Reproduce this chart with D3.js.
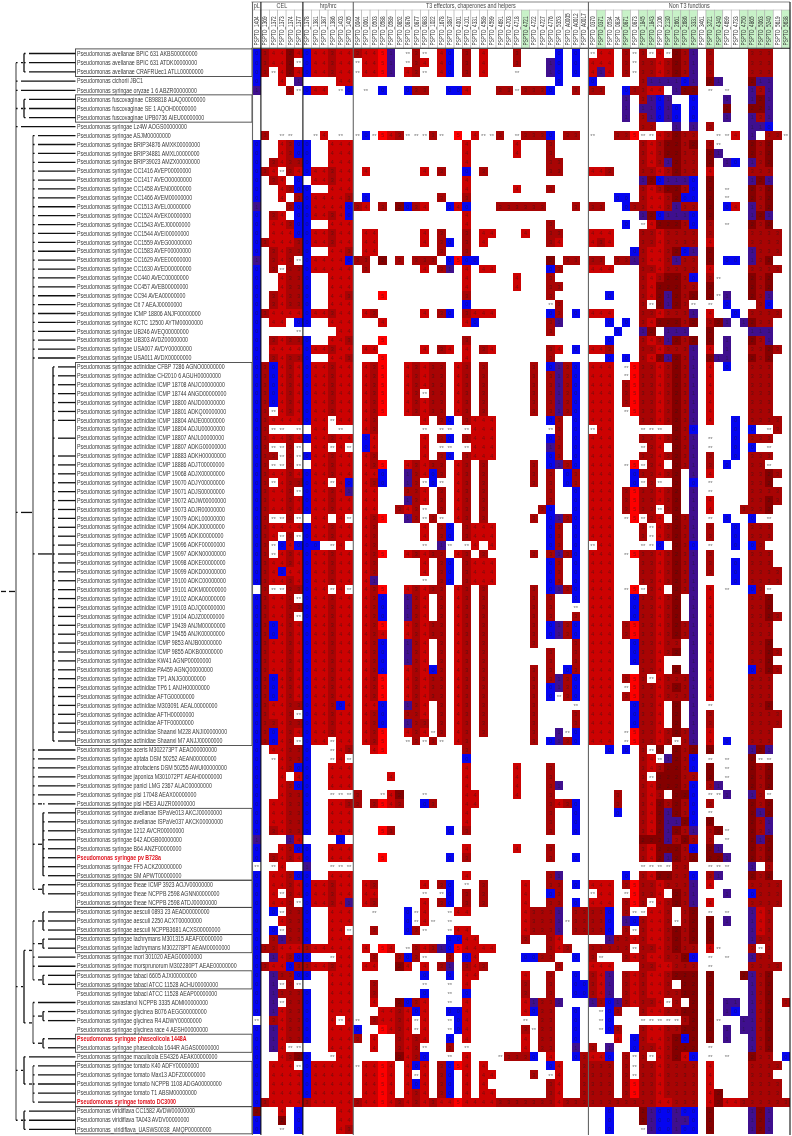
<html lang="en">
<head>
  <meta charset="UTF-8"/>
  <title>Pseudomonas T3 gene heatmap</title>
  <script src="https://d3js.org/d3.v7.min.js"></script>
  <style>
body { margin: 0; background: #fff; }
svg { display: block; filter: blur(0.3px); }
text { font-family: 'Liberation Sans', sans-serif; }
.strain { font-size: 6.6px; fill: #3a3a3a; }
.strain.ref { fill: #e0141e; font-weight: 700; }
.gene text { font-size: 6.4px; fill: #333; }
.group { font-size: 6.8px; fill: #444; text-anchor: middle; }
.digit { font-size: 5.4px; fill: #1a1a1a; opacity: 0.5; text-anchor: middle; }
.star { font-size: 6px; fill: #777; text-anchor: middle; }
  </style>
</head>
<body>
<svg width="792" height="1136"></svg>
<script>
const groupNames = ['pL', 'CEL', 'hrp/hrc', 'T3 effectors, chaperones and helpers', 'Non T3 functions'];
const groupSizes = [1, 5, 6, 28, 24];

const genes = ['1404','1369','1372','1373','1374','1377','1378','1381','1387','1386','1403','1405',
  '0044','0061','0503','0588','0589','0852','0876','0877','0883','1022','1678','3087','4001','4101','4331','4589',
  '4599','4691','4703','4718','4721','4722','4727','4776','5353','A0005','A0012','A0017',
  '0370','0371','0534','0834','0871','0873','1845','1843','2106','2130','2661','2686','3331','3461','3721','4340',
  '4699','4733','4750','4865','5063','5240','5619','5638'];
const greenGenes = ['4721','0371','0871','1845','1843','2130','2661','2686','3331','3721','4340','4750','4865','5063','5240','5638'];

const strains = [
  'Pseudomonas avellanae BPIC 631 AKBS00000000','Pseudomonas avellanae BPIC 631 ATDK00000000','Pseudomonas avellanae CRAFRUec1 ATLL00000000',
  'Pseudomonas cichorii JBC1','Pseudomonas syringae oryzae 1 6 ABZR00000000',
  'Pseudomonas fuscovaginae CB98818 ALAQ00000000','Pseudomonas fuscovaginae SE 1 AQOH00000000','Pseudomonas fuscovaginae UPB0736 AIEU00000000',
  'Pseudomonas syringae Lz4W AOGS00000000','Pseudomonas syringae ASJM00000000',
  'Pseudomonas syringae BRIP34876 AMXK00000000','Pseudomonas syringae BRIP34881 AMXL00000000','Pseudomonas syringae BRIP39023 AMZX00000000',
  'Pseudomonas syringae CC1416 AVEP00000000','Pseudomonas syringae CC1417 AVEO00000000','Pseudomonas syringae CC1458 AVEN00000000',
  'Pseudomonas syringae CC1466 AVEM00000000','Pseudomonas syringae CC1513 AVEL00000000','Pseudomonas syringae CC1524 AVEK00000000',
  'Pseudomonas syringae CC1543 AVEJ00000000','Pseudomonas syringae CC1544 AVEI00000000','Pseudomonas syringae CC1559 AVEG00000000',
  'Pseudomonas syringae CC1583 AVEF00000000','Pseudomonas syringae CC1629 AVEE00000000','Pseudomonas syringae CC1630 AVED00000000',
  'Pseudomonas syringae CC440 AVEC00000000','Pseudomonas syringae CC457 AVEB00000000','Pseudomonas syringae CC94 AVEA00000000',
  'Pseudomonas syringae Cit 7 AEAJ00000000','Pseudomonas syringae ICMP 18806 ANJF00000000','Pseudomonas syringae KCTC 12500 AYTM00000000',
  'Pseudomonas syringae UB246 AVEQ00000000','Pseudomonas syringae UB303 AVDZ00000000','Pseudomonas syringae USA007 AVDY00000000','Pseudomonas syringae USA011 AVDX00000000',
  'Pseudomonas syringae actinidiae CFBP 7286 AGNO00000000','Pseudomonas syringae actinidiae CH2010 6 AGUH00000000',
  'Pseudomonas syringae actinidiae ICMP 18708 ANJC00000000','Pseudomonas syringae actinidiae ICMP 18744 ANGD00000000',
  'Pseudomonas syringae actinidiae ICMP 18800 ANJD00000000','Pseudomonas syringae actinidiae ICMP 18801 ADKQ00000000',
  'Pseudomonas syringae actinidiae ICMP 18804 ANJE00000000','Pseudomonas syringae actinidiae ICMP 18804 ADJU00000000',
  'Pseudomonas syringae actinidiae ICMP 18807 ANJL00000000','Pseudomonas syringae actinidiae ICMP 18807 ADKG00000000',
  'Pseudomonas syringae actinidiae ICMP 18883 ADKH00000000','Pseudomonas syringae actinidiae ICMP 18886 ADJT00000000',
  'Pseudomonas syringae actinidiae ICMP 19068 ADJX00000000','Pseudomonas syringae actinidiae ICMP 19070 ADJY00000000',
  'Pseudomonas syringae actinidiae ICMP 19071 ADJS00000000','Pseudomonas syringae actinidiae ICMP 19072 ADJW00000000',
  'Pseudomonas syringae actinidiae ICMP 19073 ADJR00000000','Pseudomonas syringae actinidiae ICMP 19079 ADKL00000000',
  'Pseudomonas syringae actinidiae ICMP 19094 ADKJ00000000','Pseudomonas syringae actinidiae ICMP 19095 ADKI00000000',
  'Pseudomonas syringae actinidiae ICMP 19096 ADKF00000000','Pseudomonas syringae actinidiae ICMP 19097 ADKN00000000',
  'Pseudomonas syringae actinidiae ICMP 19098 ADKE00000000','Pseudomonas syringae actinidiae ICMP 19099 ADKD00000000',
  'Pseudomonas syringae actinidiae ICMP 19100 ADKC00000000','Pseudomonas syringae actinidiae ICMP 19101 ADKM00000000',
  'Pseudomonas syringae actinidiae ICMP 19102 ADKA00000000','Pseudomonas syringae actinidiae ICMP 19103 ADJQ00000000',
  'Pseudomonas syringae actinidiae ICMP 19104 ADJZ00000000','Pseudomonas syringae actinidiae ICMP 19439 ANJM00000000',
  'Pseudomonas syringae actinidiae ICMP 19455 ANJK00000000','Pseudomonas syringae actinidiae ICMP 9853 ANJB00000000',
  'Pseudomonas syringae actinidiae ICMP 9855 ADKB00000000','Pseudomonas syringae actinidiae KW41 AGNP00000000',
  'Pseudomonas syringae actinidiae PA459 AGNQ00000000','Pseudomonas syringae actinidiae TP1 ANJG00000000',
  'Pseudomonas syringae actinidiae TP6 1 ANJH00000000','Pseudomonas syringae actinidiae AFTG00000000',
  'Pseudomonas syringae actinidiae M303091 AEAL00000000','Pseudomonas syringae actinidiae AFTH00000000',
  'Pseudomonas syringae actinidiae AFTF00000000','Pseudomonas syringae actinidiae Shaanxi M228 ANJI00000000',
  'Pseudomonas syringae actinidiae Shaanxi M7 ANJJ00000000','Pseudomonas syringae aceris M302273PT AEAO00000000',
  'Pseudomonas syringae aptata DSM 50252 AEAN00000000','Pseudomonas syringae atrofaciens DSM 50255 AWUI00000000',
  'Pseudomonas syringae japonica M301072PT AEAH00000000','Pseudomonas syringae panici LMG 2367 ALAC00000000',
  'Pseudomonas syringae pisi 17048 AEAX00000000','Pseudomonas syringae pisi H5E3 AUZR00000000',
  'Pseudomonas syringae avellanae ISPaVe013 AKCJ00000000','Pseudomonas syringae avellanae ISPaVe037 AKCK00000000',
  'Pseudomonas syringae 1212 AVCR00000000','Pseudomonas syringae 642 ADGB00000000','Pseudomonas syringae B64 ANZF00000000',
  'Pseudomonas syringae pv B728a','Pseudomonas syringae FF5 ACKZ00000000','Pseudomonas syringae SM APWT00000000',
  'Pseudomonas syringae theae ICMP 3923 AOJV00000000','Pseudomonas syringae theae NCPPB 2598 AGNN00000000','Pseudomonas syringae theae NCPPB 2598 ATDJ00000000',
  'Pseudomonas syringae aesculi 0893 23 AEAD00000000','Pseudomonas syringae aesculi 2250 ACXT00000000','Pseudomonas syringae aesculi NCPPB3681 ACXS00000000',
  'Pseudomonas syringae lachrymans M301315 AEAF00000000','Pseudomonas syringae lachrymans M302278PT AEAM00000000',
  'Pseudomonas syringae mori 301020 AEAG00000000','Pseudomonas syringae morsprunorum M302280PT AEAE00000000',
  'Pseudomonas syringae tabaci 6605 AJXI00000000','Pseudomonas syringae tabaci ATCC 11528 ACHU00000000','Pseudomonas syringae tabaci ATCC 11528 AEAP00000000',
  'Pseudomonas savastanoi NCPPB 3335 ADMI00000000','Pseudomonas syringae glycinea B076 AEGG00000000','Pseudomonas syringae glycinea R4 ADWY00000000',
  'Pseudomonas syringae glycinea race 4 AESH00000000','Pseudomonas syringae phaseolicola 1448A','Pseudomonas syringae phaseolicola 1644R AGAS00000000',
  'Pseudomonas syringae maculicola ES4326 AEAK00000000','Pseudomonas syringae tomato K40 ADFY00000000','Pseudomonas syringae tomato Max13 ADFZ00000000',
  'Pseudomonas syringae tomato NCPPB 1108 ADGA00000000','Pseudomonas syringae tomato T1 ABSM00000000','Pseudomonas syringae tomato DC3000',
  'Pseudomonas viridiflava CC1582 AVDW00000000','Pseudomonas viridiflava TA043 AVDV00000000','Pseudomonas_viridiflava_UASWS0038_AMQP00000000'];
const refStrains = ['Pseudomonas syringae pv B728a', 'Pseudomonas syringae phaseolicola 1448A', 'Pseudomonas syringae tomato DC3000'];

// one line per strain; 0-5 = score, * = "**" cell, . = empty. chunks start at segStart columns
const segStart = [0, 1, 6, 12, 22, 32, 40, 50, 60];
const scores = [
'0 34424 044344 34451.*3*. 40.3.4...3 ....0.0. *44.3*3*4* 231.3....3 33..',
'0 3442* 044344 *4451.*34. 40.3.4...3 ...10.0. 444.3*3343 231.3....3 33..',
'0 3*424 044344 *4451.43*. 40.3.4...* ...10.0. 414.3*3343 231.3....3 33..',
'0 ..4.1 ....44 . . ....0... 0.....3111 101.21...2 11..',
'1 ...3* 044.*0 .*.0..033. .004...33* 3330..3. 33..03344. 122.*.*..1 31..',
'. . . . . . ....1.3101 ..0...1..1 21..',
'. . . . . . ....1.1101 0.0...2..2 21..',
'. . . . . . ....1.3101 0.0...1..1 31..',
'. . . . . . ......33.. 1.1.3....1 10..',
'. 3.**. .*4.*. *0*543***3 *.5.4**3.* 3330.33. *..335**43 233..**4.1 .33*',
'0 ..430 0..444 . ...4.....4 ...3.... ......3432 232.3*...2 32..',
'0 ..430 0..444 . ...4.....4 ...3.... ......3432 233.21...2 32..',
'0 .3433 0..444 . ...4...... ...33... ......3431 233.2.10.1 32..',
'0 34*34 044344 .4......4. 3..0.3.... ...33... 443...3343 233.4....3 33..',
'0 .34.0 .44344 . ...4...... . ......1201 110.2....1 21..',
'0 ..430 0..444 . ...4.....4 ...3.... ......3432 230.2.*..2 32..',
'0 ..4.3 044443 .0........ 3..3...... . ...00.3443 200.2.*..2 32..',
'1 ...30 044440 34.3.2034. .040...333 333...3. 33..033443 133.2.04.1 32..',
'0 .34.0 044340 . ...4...... . ......1201 110.2....1 21..',
'0 .4430 0..444 . ...4...... ...3.... ....0.*422 230.3.*..2 32..',
'0 .4440 044344 .44.....4. 3..3.44... 4..33... 444...3343 333.3....3 333.',
'0 34443 044344 .44.....4. 30.3.4.... ...34... 434...3343 333.4....3 333.',
'0 .3433 0..443 .44....... 3..3...... . .....03443 201.2....1 333.',
'1 .343* 044440 33.2.3.333 .0500..... ...2.33. 33.3313443 133.2.00.1 32..',
'0 .3*33 044444 .3......4. 31.4.44... ...03... 444...3343 333.4....3 333.',
'0 ..433 0..444 . ...4.....4 ...3.... ......3432 230.3*...2 32..',
'0 ..433 0..444 . ...4.....4 ...33... ......3422 233.2....2 32..',
'0 .3433 0..443 ...5...... ...3...... ...3.... ..0...3421 232.2*1..2 31..',
'0 .3433 0..444 . ...0...... ...*3... ......3*21 23*.*.0... 30..',
'0 34444 044344 .43.....4. 30.3444... ...03.0. 444...3343 331.4..0.3 333.',
'0 .44.0 0..444 ...4...... ...40..... ...31... ..0.0.3422 232.321.12 33..',
'0 ....* ....44 . . ...3.... ...0..12.1 11..2....1 11..',
'0 .3433 0..443 ...5...... ...3...... . ..0...3431 232.2.1..2 31..',
'0 .4444 044344 .44.....4. 34.4.34... ...34.0. 443...3343 331.4.1..3 323.',
'0 .3433 0..443 ...5...... ...4...... ...3.... ..0.0.3421 231.211..2 32..',
'0 30434 044344 .435..4343 3.43.3.... .3.0130. 444.*53343 231.4.0..3 33..',
'0 30434 044344 .435..4343 3.43.3.... .3.3130. 444.*53343 231.4....3 33..',
'0 30434 044344 .435..4343 3.43.3.... .3.3130. 444.353343 231.4....3 33..',
'0 30434 044344 .435..43*3 3.43.3.... .3.3130. 444.353343 231.4....3 33..',
'0 30434 044344 .435..4343 3.43.3.... .3.3130. 444.353343 231.4....3 33..',
'0 3*434 044344 .435..4343 3.43.3.... .3.3130. 444.*53343 231.4....3 33..',
'0 34444 044*44 .43.....4. 30.3444... ...03.0. 444...3343 231.4..0.3 333.',
'0 3**.* .44.*. .43.....*. **.*444... ...*3.0. *44...***. 230....0.0 .*3.',
'0 34434 044344 .04.....4. 30.3444... ...03.0. 444...3343 231.*..0.3 33..',
'0 3**3* .44*4* .04.....4. **.*444... ...13.0. 444...*34. 231.*..0.0 .*..',
'0 33*3* 044344 .43.....4. 30.3444... ...03.0. 444...3343 231.3..0.3 33..',
'0 3**3* .44344 .435..4343 3.43.3.... .3.0130. 444.*5*34. 231.3.0..3 3*..',
'0 34434 044344 .440..1340 3.43.3.... .3.3.03. 444..03343 2.1.4....3 323.',
'0 3*433 044*40 .430..13*0 *.43.3.... .3.3.03. 444..0*3*. 2.0.*....3 32..',
'0 3443* 044341 .44...334. 3.43.3.... ...3..0. 444.353343 2.1.*....3 333.',
'0 34434 044344 .44...134. 3.43.3.... ...3..0. 444.353343 2.1.4....3 323.',
'0 34434 044344 .44..343*. 3.43.3.... ..30..0. 444.3533*3 2.1.4...33 32..',
'0 3**3* .44.4* .435..13*3 *.43.3.... .3.0130. 444.*5*34. 231.*.0..0 .*..',
'0 34444 044344 .43.....4. 30.3444... ...03.0. 444...3*43 231.3..0.3 33..',
'0 34*3* 044344 .43.....4. 30.3444... ...03.0. 444...3*43 231.3..0.3 33..',
'0 3*040 00.*4. .43.....*. 1*.*4.4... ...03.0. *44...**0. 230.*..0.0 3...',
'0 3*434 044344 .435..4343 3.43.3.... .3.3130. 444.*53343 231.3....3 33..',
'0 34434 044344 .43.....4. 30.3444... ...03.0. 444...3343 231.3..0.3 33..',
'0 34044 044344 .43.....4. 30.3444... ...03.0. 444...3343 231.3..0.3 333.',
'0 34434 044344 .41.....*. 30.3444... ...03.0. 444...3343 231....0.3 333.',
'. 3**33 044*4* .435..4343 3.43.3.... .3.0130. 444.*5*34. 231.4.*..0 3*..',
'0 3443* 044344 .430..134. 3.43.3.... .3.3..0. 444..03343 2.1.4....3 32..',
'0 34433 044344 .430..134. 3.43.3.... .3.3..*. 444..03343 2.1.4....3 32..',
'0 3443* 044344 .430..134. 3.43.3.... .3.3..3. 444..03343 2.1.4....3 323.',
'0 30434 044344 .435..4343 3.43.3.... .3.0130. 444.353343 231.4....3 33..',
'0 30434 044344 .434..4343 3.43.3.... .3.0130. 444.353343 231.4....3 33..',
'0 34434 044344 .430..134. 3.43.3.... .3....3. 444..03343 3.1.4....3 32..',
'0 34434 044344 .430..134. 3.43.3.... ...3..3. 444..03343 2.1.4....3 323.',
'0 34434 044344 .430..134. 3.43.3.... ...3..3. 444..0334. ..1.4....3 32..',
'0 34434 044344 .430..4340 3.43.3.... .3.3.03. 444...334. 2.1.4....0 323.',
'0 30434 044344 .435..4343 3.43.3.... .3.3130. 444.353*43 331.4....3 33..',
'0 30434 044344 .435..4343 3.43.3.... .3.0130. 444.*53343 231.4....3 33..',
'0 30434 044344 .435..4343 3.43.3.... .3.0*30. 444.353343 331.4....3 33..',
'0 34433 044304 .440..134. 3.43.3.... .3....*. 444..0334. 2.1.*....3 32..',
'0 3443* 044344 .430..334. 3.43.3.... .3....3. 444..0334. 2.1.3....3 333.',
'0 33433 044344 .430..133. 3.43.3.... .3....3. 444..0334. 2.1.3....3 333.',
'0 30434 044344 .435..434* 3.43.3.... .3..1*0. 444.*53343 231.4....3 33..',
'0 3043* 044*44 .435..*3*3 *.43...... .3.0130. 444.*53343 *31.4.0..3 33..',
'0 .4433 0..*43 ..45...... ...3...... . ..0.0.3*2. 232.2....1 21..',
'0 .*433 0..*4* . ...0...... . ......34*1 230.*.*..2 **..',
'0 ..430 0..444 . ...4.....4 ...3.... ......3432 230.2.*..2 32..',
'0 ..4.4 0..444 ....4..... ...4.....4 ...3.... ......3*22 233.2.*..2 32..',
'0 ..430 0..444 . ...4.....4 ...31... ......3422 230.31...2 32..',
'0 ..433 0..*** 3..*42..*. ...44....4 ...3.... ...3..343. 220.**1..1 3*..',
'0 .4433 0..443 3.3543..03 ...44..... ...3430. ...3..3423 230.3....2 32..',
'0 .4433 0..444 . ...4...... ...3..0. ...0..3421 230.*....2 12..',
'0 .4433 0..444 . ...4...... ...3..0. ......3421 120.2....2 31..',
'0 .3433 0..444 ...53..... .0.3...... ...3..0. ......3421 231.32*..2 31..',
'1 ...14 ....0. . . . ......2221 323.3.*..2 12..',
'0 ..430 0..444 . ...4.....4 ...3.... ......3422 230.21...2 32..',
'0 .3434 0..444 ...5...... .0.3...... ...3..0. ......3421 232.221..2 32..',
'* .*4.. 1..*** . . . ......**** 33..***..1 .3..',
'0 .4430 0..444 . ...4...... ...31... ....0.3422 330.31...2 32..',
'0 .4434 044344 .43.....4. 30.*.3.... 4..33.0. 444.353343 331.4....3 333.',
'0 .4*34 044344 .44.....*. *0.3.3.... 4..03... *44.*5334. 231...1..0 333.',
'0 .443* 044341 .43.....4. 30.3.3.... 4..33.0. 444.353*43 231.4....3 333.',
'0 .0*33 0..444 ..*...0*4. .*44...... 43331.33 330.3**443 .32.*.*..1 43..',
'0 ..433 0..444 ......0*4* .*........ 43331*33 330.103443 *32.2.1..1 43..',
'0 .0*33 0..44* ..3...03*. .*44...... 43331.33 330.3*3443 232.2....1 43..',
'0 .3133 0..444 . .0044..... 3..34... ..13343443 232.2....1 33..',
'0 33444 344444 .4.54.*343 1054444... ...343.. 33333*3343 233.4*...3 *3..',
'0 .1430 0..*44 ..3..303*. .3.04..... 0033..0. 3*..343443 320.*.*..1 33..',
'0 34403 344344 .44..24.4. 31.343.... ....3... 444...3344 333.*....3 333.',
'0 .1330 0..444 ........0. .0.44..... 4..3..0. 341.343443 222.2...21 32..',
'0 .1*3* ...444 ..3.....*. .*.4...... 3..3..00 341.343443 .22.2....1 32..',
'0 .1333 0..444 ..3.....0. .*.0...... 3..3..00 341.343443 322.2....1 32..',
'0 .1*33 0..444 ..4..2034. .*.4...... 41331... 130134334* 3.2.2.11.1 32.3',
'0 .1433 0..444 ...443404. .004...... 4033..0. .*03..3443 322.2.10.1 32..',
'* .3433 0..4*4 *.34434*4. .*04...... *.33..0. .*0...**** *32.2*..11 32..',
'0 .1433 0..444 0..5434*4. .*04...... 3*33..0. .*03..3443 322.2.1.11 32..',
'0 .1433 0..444 3.4..3434. .0.4...... 4.33..0. ...4.03443 202.2.1..1 32..',
'0 .14** ...444 ..4..343*. .3.*...... 4.33..1. 3.1..03343 222.*....1 32..',
'0 ..432 0..*44 .....2430. .*.4...*33 30.4..03 440.3*3*43 240.*.*..2 33.0',
'0 .444* 044444 *4454.404. 3054.4.... ...04..3 333.3*3343 333.4....3 333.',
'0 .4444 044444 .4454.4*4. 30.4.44... .3.*4..3 333.3*3343 333.4....3 33..',
'0 .4444 044444 .4454.404. 30.4.4.... ...34..3 333.353343 333.4....3 333.',
'0 .4444 044444 .4454.434. 30.4.44... ...34..3 333.353343 333.42...3 333.',
'0 34444 344444 3445434343 4454444333 33334333 3333333344 333.424433 3333',
'2 ..4.0 ....44 . . . ..0...2100 100.2....1 21..',
'0 ..2.0 ....44 . . . ..0...2100 110.2....1 21..',
'0 ..*.0 ....43 . . . ..0...*100 100.2....1 21..'
];
const scoreValues = ['0', '1', '2', '3', '4', '5'];
const scoreColors = ['#0505f0', '#3f0f8e', '#840000', '#a80404', '#cc0202', '#fd0000'];

// boxed clades, first and last row
const boxedRows = [[0,2],[5,7],[35,77],[85,92],[93,95],[96,98],[99,100],[103,104],[110,111],[113,117],[118,120]];

// tree: [x of the vertical, ...children], a number child is a strain row
const tree = [16,
  [24, 0, 1, 2], 3, 4, [24, 5, 6, 7], 8,
  [33, ...d3.range(9, 35),
    [53, ...d3.range(35, 78).filter(r => r != 42 && r != 44)],
    ...d3.range(78, 84), [43, 84],
    [43, ...d3.range(85, 93)],
    [43, 93, 94]],
  [24,
    [33, [43, 96, 97, 98], [43, 99, 100], 101, 102, [43, 103, 104]],
    [33, 106, [43, 107, 108], [43, 110, 111]]],
  [24, 112, [33, ...d3.range(113, 118)]],
  [24, 118, 119, 120]];

const svg = d3.select('svg');
const labelX = 75.5;
// the reference font is condensed, so the text is squeezed sideways
const strainSqueeze = 0.8;
const geneSqueeze = 0.74;
const groupSqueeze = 0.8;

const x = d3.scaleBand().domain(d3.range(genes.length)).range([252.5, 790]);
// rows are not perfectly even in the picture
const y = d3.scaleLinear()
  .domain([0, 4, 8, 34, 64, 77, 92, 120])
  .range([53.5, 90.3, 126.7, 358, 625.3, 741, 875.7, 1129.3]);
const color = d3.scaleOrdinal().domain(scoreValues).range(scoreColors);

const cells = [];
scores.forEach((line, r) => {
  line.split(' ').forEach((seg, s) => {
    seg.split('').forEach((v, k) => {
      if (v != '.') cells.push({ r: r, c: segStart[s] + k, v: v });
    });
  });
});

const cellG = svg.append('g');
cellG.selectAll('rect')
  .data(cells.filter(d => d.v != '*'))
  .enter()
  .append('rect')
  .attr('x', d => x(d.c))
  .attr('y', d => y(d.r - 0.5))
  .attr('width', x.bandwidth())
  .attr('height', d => y(d.r + 0.5) - y(d.r - 0.5))
  .attr('shape-rendering', 'crispEdges')
  .attr('fill', d => color(d.v));

cellG.selectAll('text')
  .data(cells)
  .enter()
  .append('text')
  .attr('class', d => d.v == '*' ? 'star' : 'digit')
  .attr('x', d => x(d.c) + x.bandwidth() / 2)
  .attr('y', d => y(d.r) + (d.v == '*' ? 2.6 : 1.8))
  .text(d => d.v == '*' ? '**' : d.v);

// strain labels
svg.append('g').selectAll('text')
  .data(strains)
  .enter()
  .append('text')
  .attr('class', d => refStrains.includes(d) ? 'strain ref' : 'strain')
  .attr('transform', (d, i) => `translate(${labelX + 1.5}, ${y(i) + 2.2}) scale(${strainSqueeze}, 1)`)
  .text(d => d);

// clade boxes
svg.append('g').selectAll('rect')
  .data(boxedRows)
  .enter()
  .append('rect')
  .attr('x', labelX)
  .attr('y', d => y(d[0] - 0.5))
  .attr('width', 252 - labelX)
  .attr('height', d => y(d[1] + 0.5) - y(d[0] - 0.5))
  .attr('fill', 'none')
  .attr('stroke', '#444')
  .attr('stroke-width', 0.9);

// tree, children are drawn with a small gap after the vertical
const treeG = svg.append('g').attr('stroke-width', 1.3).attr('fill', 'none');
const seg = (x1, y1, x2, y2, c) => treeG.append('line')
  .attr('x1', x1).attr('y1', y1).attr('x2', x2).attr('y2', y2).attr('stroke', c);

function drawNode(node) {
  const nx = node[0];
  const stroke = (nx == 16 || nx == 33) ? '#666' : '#111';
  const ys = node.slice(1).map(k => typeof k == 'number' ? y(k) : drawNode(k));
  seg(nx, d3.min(ys), nx, d3.max(ys), stroke);
  node.slice(1).forEach((k, i) => {
    seg(nx, ys[i], nx + 1.6, ys[i], '#111');
    seg(nx + 5, ys[i], typeof k == 'number' ? labelX : k[0] - 1, ys[i], '#111');
  });
  return (d3.min(ys) + d3.max(ys)) / 2;
}
const rootY = drawNode(tree);
seg(1, rootY, 6, rootY, '#111');
seg(9, rootY, 15, rootY, '#111');

// header
const header = svg.append('g');
header.selectAll('rect')
  .data(genes)
  .enter()
  .append('rect')
  .attr('x', (d, i) => x(i))
  .attr('y', 10)
  .attr('width', x.bandwidth())
  .attr('height', 38)
  .attr('fill', d => greenGenes.includes(d) ? '#c8f2c8' : '#fff')
  .attr('stroke', '#aaa')
  .attr('stroke-width', 0.5);

const geneAxis = d3.axisTop(x)
  .tickSize(0)
  .tickFormat(i => 'PSPTO_' + genes[i]);

header.append('g')
  .attr('class', 'gene')
  .attr('transform', 'translate(0, 45.5)')
  .call(geneAxis)
  .call(g => g.select('.domain').remove())
  .selectAll('text')
  .attr('transform', `rotate(-90) scale(${geneSqueeze}, 1)`)
  .attr('x', 0)
  .attr('y', 0)
  .attr('dx', 0)
  .attr('dy', '0.35em')
  .attr('text-anchor', 'start');

const starts = d3.cumsum([0].concat(groupSizes));

header.selectAll('text.group')
  .data(groupNames)
  .enter()
  .append('text')
  .attr('class', 'group')
  .attr('transform', (d, i) => {
    const cx = (x(starts[i]) + x(starts[i + 1] - 1) + x.bandwidth()) / 2;
    return `translate(${cx}, 8.2) scale(${groupSqueeze}, 1)`;
  })
  .text(d => d);

header.append('line').attr('x1', 251.5).attr('x2', 790).attr('y1', 2).attr('y2', 2)
  .attr('stroke', '#888').attr('stroke-width', 1.2);
header.append('line').attr('x1', 251.5).attr('x2', 790).attr('y1', 48.3).attr('y2', 48.3)
  .attr('stroke', '#111').attr('stroke-width', 0.9);

// group separators
const sepColors = ['#666', '#111', '#111', '#666', '#666', '#111'];
svg.append('g').selectAll('line')
  .data(starts)
  .enter()
  .append('line')
  .attr('x1', d => d < genes.length ? x(d) : 790)
  .attr('x2', d => d < genes.length ? x(d) : 790)
  .attr('y1', 2)
  .attr('y2', 1135)
  .attr('stroke', (d, i) => sepColors[i])
  .attr('stroke-width', 1.1);
</script>
</body>
</html>
